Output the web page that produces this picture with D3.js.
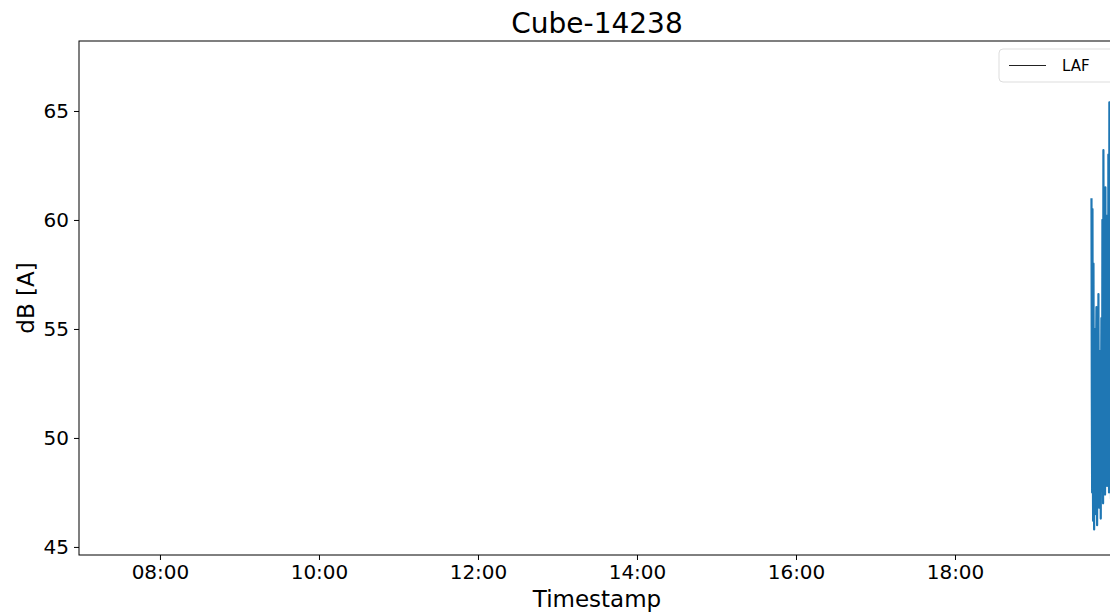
<!DOCTYPE html>
<html>
<head>
<meta charset="utf-8">
<script src="https://cdn.jsdelivr.net/npm/d3@7"></script>
<style>
  html, body { margin: 0; padding: 0; background: #fff; overflow: hidden; }
  svg { display: block; font-family: "DejaVu Sans", sans-serif; }
</style>
</head>
<body>
<svg id="chart" width="1110" height="616"></svg>
<script>
// ---- data ----
const title = "Cube-14238";
const seriesName = "LAF";
const xLabel = "Timestamp";
const yLabel = "dB [A]";
const startTime = "2021-06-01T19:43:00";
const stepSeconds = 15;
const lafValues = [
  61.0, 52.0, 47.5, 60.5, 49.0, 46.2, 58.0, 50.5, 45.8, 55.0,
  48.0, 46.5, 52.0, 47.0, 54.0, 56.0, 49.5, 46.0, 53.5, 47.2,
  51.0, 56.6, 50.0, 46.8, 54.0, 48.5, 47.5, 50.5, 46.3, 52.0,
  55.5, 50.0, 48.0, 60.0, 52.5, 47.0, 63.2, 55.0, 48.5, 58.0,
  51.0, 47.4, 61.5, 53.0, 48.2, 57.0, 50.0, 47.8, 60.2, 52.0,
  48.6, 63.0, 54.0, 47.5, 65.4, 55.0, 48.0, 62.0, 51.0, 47.2,
  64.5, 53.0, 48.5, 67.1, 55.0, 47.9, 63.0, 52.0, 49.0, 58.5,
  48.1
];
const xDomain = ["2021-06-01T06:58:54", "2021-06-01T20:00:45"];
const yDomain = [44.63, 68.21];
const xTickLabels = ["08:00", "10:00", "12:00", "14:00", "16:00", "18:00"];
const yTickValues = [45, 50, 55, 60, 65];

// ---- build ----
const parse = d3.isoParse;
const t0 = parse(startTime);
const data = lafValues.map((v, i) => ({ t: new Date(t0.getTime() + i * stepSeconds * 1000), v }));

const svg = d3.select("#chart");
const W = 1110, H = 616;
const m = { left: 79, top: 41, right: 1115, bottom: 555 };

const x = d3.scaleTime().domain(xDomain.map(parse)).range([m.left, m.right]);
const y = d3.scaleLinear().domain(yDomain).range([m.bottom, m.top]);

svg.append("rect").attr("width", W).attr("height", H).attr("fill", "#fff");

// clip
svg.append("clipPath").attr("id", "clip").append("rect")
  .attr("x", m.left).attr("y", m.top).attr("width", m.right - m.left).attr("height", m.bottom - m.top);

// line
const line = d3.line().x(d => x(d.t)).y(d => y(d.v));
svg.append("path").datum(data)
  .attr("clip-path", "url(#clip)")
  .attr("fill", "none").attr("stroke", "#1f77b4").attr("stroke-width", 2.2)
  .attr("stroke-linejoin", "round")
  .attr("d", line);

// axes
const xTicks = xTickLabels.map(s => parse("2021-06-01T" + s + ":00"));
const xAxis = d3.axisBottom(x).tickValues(xTicks).tickFormat(d3.timeFormat("%H:%M"))
  .tickSize(5).tickPadding(5);
const gx = svg.append("g").attr("transform", `translate(0,${m.bottom})`).call(xAxis);
gx.select(".domain").remove();
gx.selectAll("text").attr("font-size", 20).attr("font-family", "DejaVu Sans").attr("fill", "#000");
gx.selectAll("line").attr("stroke", "#000").attr("stroke-width", 1);

const yAxis = d3.axisLeft(y).tickValues(yTickValues).tickFormat(d3.format("d"))
  .tickSize(5).tickPadding(5);
const gy = svg.append("g").attr("transform", `translate(${m.left},0)`).call(yAxis);
gy.select(".domain").remove();
gy.selectAll("text").attr("font-size", 20).attr("font-family", "DejaVu Sans").attr("fill", "#000");
gy.selectAll("line").attr("stroke", "#000").attr("stroke-width", 1);

// spines
svg.append("rect").attr("x", m.left).attr("y", m.top)
  .attr("width", m.right - m.left).attr("height", m.bottom - m.top)
  .attr("fill", "none").attr("stroke", "#000").attr("stroke-width", 1);

// title
svg.append("text").attr("x", (m.left + m.right) / 2).attr("y", 33)
  .attr("text-anchor", "middle").attr("font-size", 28).attr("fill", "#000").text(title);

// axis labels
svg.append("text").attr("x", (m.left + m.right) / 2).attr("y", 607)
  .attr("text-anchor", "middle").attr("font-size", 23).attr("fill", "#000").text(xLabel);
svg.append("text").attr("transform", `translate(34,${(m.top + m.bottom) / 2}) rotate(-90)`)
  .attr("text-anchor", "middle").attr("font-size", 23).attr("fill", "#000").text(yLabel);

// legend
const lg = svg.append("g");
lg.append("rect").attr("x", 999).attr("y", 49).attr("width", 140).attr("height", 33).attr("rx", 4)
  .attr("fill", "#fff").attr("fill-opacity", 0.8).attr("stroke", "#ddd").attr("stroke-width", 1);
lg.append("line").attr("x1", 1009).attr("x2", 1046).attr("y1", 65.5).attr("y2", 65.5)
  .attr("stroke", "#222").attr("stroke-width", 1.2);
lg.append("text").attr("x", 1062).attr("y", 71).attr("font-size", 15).attr("fill", "#000").text(seriesName);
</script>
</body>
</html>
